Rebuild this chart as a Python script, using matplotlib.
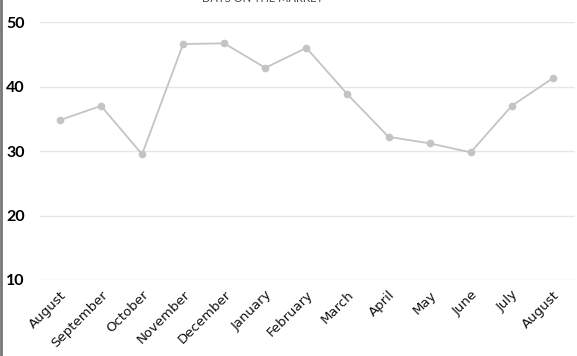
import matplotlib
matplotlib.use("Agg")
import matplotlib.pyplot as plt
from matplotlib.lines import Line2D

plt.rcParams['font.family'] = ['Lato', 'DejaVu Sans']

months = ['August', 'September', 'October', 'November', 'December', 'January',
          'February', 'March', 'April', 'May', 'June', 'July', 'August']
days = [34.8, 37.0, 29.5, 46.6, 46.7, 42.9, 46.0, 38.8, 32.2, 31.2, 29.8, 37.0, 41.3]
yticks = [10, 20, 30, 40, 50]

fig = plt.figure(figsize=(5.77, 3.56), dpi=100)
ax = fig.add_axes([0.069, 0.2135, 0.9275, 0.7245])

x = list(range(len(days)))
ax.plot(x, days, color='#c4c4c4', lw=1.3, marker='o', ms=4.5, zorder=3)

ax.set_xlim(-0.49, 12.54)
ax.set_ylim(10, 50)
ax.set_yticks(yticks)
ax.set_yticklabels([str(v) for v in yticks], fontsize=11.5, fontweight='bold')
ax.set_xticks(x)
ax.set_xticklabels(months, rotation=45, ha='right', va='top',
                   rotation_mode='anchor', fontsize=9.5, family='DejaVu Sans',
                   color='#111111')
ax.tick_params(length=0)
ax.tick_params(axis='y', pad=11)
ax.tick_params(axis='x', pad=6)
ax.grid(axis='y', color='#e6e6e6', lw=1)
ax.set_axisbelow(True)
for s in ax.spines.values():
    s.set_visible(False)

fig.text(0.455, 1.005, 'DAYS ON THE MARKET', ha='center', va='center',
         fontsize=8, color='#444444')
fig.add_artist(Line2D([0.002, 0.002], [0, 1], color='#777777', lw=2,
                      transform=fig.transFigure))

fig.savefig('out.png', dpi=100)
